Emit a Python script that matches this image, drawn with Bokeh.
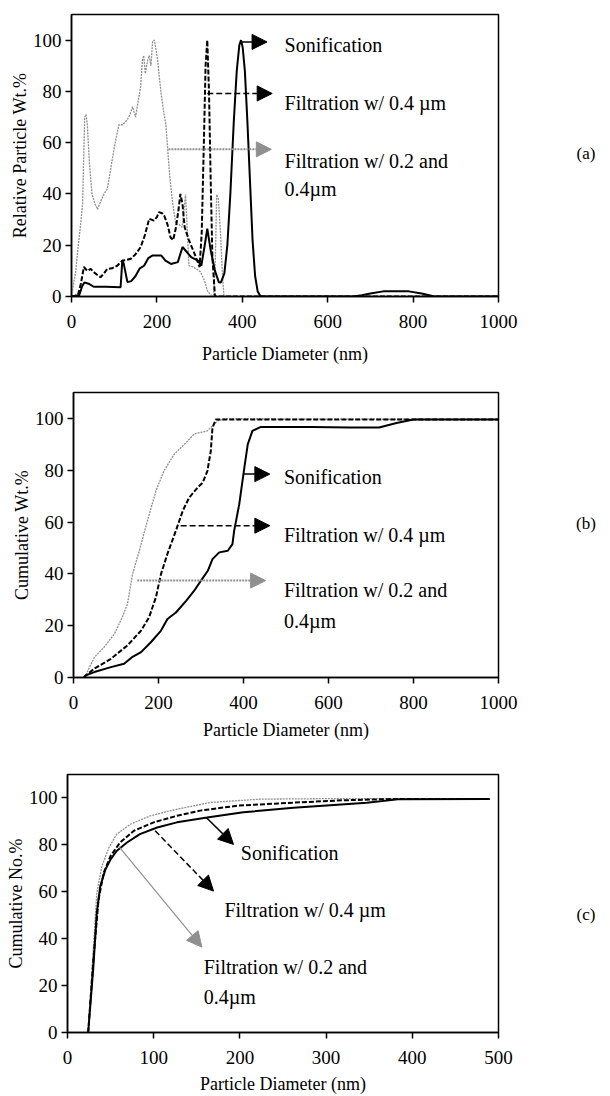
from bokeh.plotting import figure
from bokeh.layouts import column, row
from bokeh.models import Range1d, Label, Arrow, NormalHead
from bokeh.embed import file_html
from bokeh.resources import INLINE

# ---------------- data ----------------
# Panel (a): relative particle wt.%
son_a_x = [0, 18, 25, 30, 40, 52, 80, 115, 119, 122, 131, 140, 150, 160, 170, 180, 190, 210, 220, 233, 249, 260, 280, 296, 304, 312, 318, 326, 336, 345, 350, 358, 365, 372, 380, 387, 393, 397, 401, 406, 412, 418, 424, 430, 436, 443, 500, 660, 680, 700, 730, 760, 790, 820, 850, 1000]
son_a_y = [0, 0.5, 4, 5.5, 5, 3.8, 3.8, 3.6, 14, 13, 5.6, 6, 8, 11, 12, 15, 16, 16, 14, 12.7, 13.4, 19.3, 15.4, 14, 12, 20, 26.5, 18, 10, 5.6, 5.5, 9, 20, 40, 68, 88, 98, 100, 97, 88, 68, 45, 22, 8, 2, 0, 0, 0, 0.5, 1.2, 2, 2, 2, 1.2, 0, 0]

dash_a_x = [0, 15, 22, 29, 37, 45, 52, 60, 68, 76, 84, 95, 107, 119, 128, 139, 150, 162, 172, 182, 193, 200, 205, 212, 217, 225, 232, 238, 244, 250, 255, 260, 265, 275, 288, 300, 305, 310, 314, 318, 322, 326, 330, 336, 1000]
dash_a_y = [0, 0.5, 5, 11.5, 10, 10.8, 9.5, 8.5, 7.5, 9, 10.8, 11, 12, 14, 14.2, 14.7, 16.5, 19.3, 24, 30.3, 29.6, 31, 32.9, 32.5, 31.6, 28, 23, 22, 26.4, 33, 40, 36, 27, 22, 16.7, 11.5, 25, 60, 90, 100, 80, 45, 15, 0, 0]

gray_a_x = [0, 10, 14, 20, 26, 29, 31, 34, 37, 42, 48, 55, 61, 68, 76, 84, 92, 100, 106, 111, 120, 131, 137, 143, 150, 156, 162, 166, 169, 173, 178, 182, 186, 190, 194, 198, 202, 206, 210, 216, 221, 225, 230, 236, 244, 252, 259, 263, 267, 270, 275, 286, 302, 312, 318, 326, 333, 337, 340, 344, 349, 353, 357, 1000]
gray_a_y = [0, 10, 17, 26, 36, 57, 70, 71, 67, 52, 40, 36, 34, 37, 40, 42, 50, 58, 63, 67, 67, 69, 71, 74, 70, 76, 82, 92, 94, 87, 92, 94, 90, 99.5, 100, 96, 92, 85, 79, 72, 67, 58, 47, 37.6, 28.5, 28, 27, 33, 39.8, 30, 12, 11.5, 9.6, 6, 2.4, 0.5, 0.5, 15, 39.8, 38, 24.6, 10, 0, 0]

# Panel (b): cumulative wt.%
son_b_x = [25, 29, 49, 88, 119, 139, 159, 182, 206, 221, 241, 265, 284, 300, 316, 327, 343, 363, 374, 378, 390, 402, 410, 421, 441, 560, 650, 719, 760, 800, 1000]
son_b_y = [0, 0.8, 2.1, 4, 5.3, 8, 9.8, 13.6, 18.1, 22.6, 25.1, 29.6, 33.5, 37.4, 41.2, 45.7, 48.3, 48.9, 51.5, 56.6, 66.9, 81, 90, 95.2, 96.7, 96.7, 96.5, 96.5, 98.2, 99.6, 99.6]

dash_b_x = [25, 29, 49, 88, 127, 159, 178, 194, 206, 221, 241, 257, 272, 292, 304, 315, 323, 327, 335, 1000]
dash_b_y = [0, 0.8, 3.4, 7.2, 12.4, 18.1, 23.3, 31, 40, 47.7, 56.7, 64.3, 69.4, 73.3, 75.2, 79.7, 87.4, 96.4, 99.6, 99.6]

gray_b_x = [25, 29, 49, 72, 96, 115, 127, 139, 155, 174, 194, 213, 237, 261, 284, 315, 339, 354, 1000]
gray_b_y = [0, 1, 7.8, 11.7, 16.8, 23.3, 28.4, 40, 49, 60.5, 72, 79.8, 86.2, 90, 94, 95.2, 99, 99.8, 99.6]

# Panel (c): cumulative number %
son_c_x = [24, 30, 34, 38, 44, 50, 57, 69, 84, 104, 127, 162, 204, 262, 309, 347, 386, 490]
son_c_y = [0, 28, 51, 62.4, 69.5, 73.8, 77.4, 81, 84.6, 87.4, 89.6, 91.7, 93.9, 95.8, 97, 98, 99.5, 99.6]

dash_c_x = [24, 30, 36, 42, 50, 61, 77, 100, 127, 154, 197, 262, 320, 380, 490]
dash_c_y = [0, 31, 56.7, 68.1, 75.3, 81, 86, 89.6, 92.4, 94.6, 96.7, 98, 99, 99.6, 99.6]

gray_c_x = [24, 29, 34, 40, 48, 57, 73, 96, 127, 166, 224, 300, 490]
gray_c_y = [0, 30, 59.5, 71, 78.8, 84.5, 88.8, 92.4, 95.2, 98.1, 99.5, 99.7, 99.7]

series_names = ["Sonification", "Filtration w/ 0.4 \u00b5m", "Filtration w/ 0.2 and", "0.4\u00b5m"]
panel_tags = ["(a)", "(b)", "(c)"]

y_ticks = [0, 20, 40, 60, 80, 100]
x_ticks_ab = [0, 200, 400, 600, 800, 1000]
x_ticks_c = [0, 100, 200, 300, 400, 500]

FONT = "Liberation Serif"
GRAY = "#8f8f8f"
PANEL_W = 518
TAG_W = 90


def make_panel(height, top, bottom, left, xmax, xticks, ylabel, series, texts, arrows,
               gray_arrow_dash, s1, s2):
    p = figure(width=PANEL_W, height=height, output_backend="svg", toolbar_location=None,
               x_range=Range1d(0, xmax), y_range=Range1d(0, 110),
               min_border_top=top, min_border_bottom=bottom, min_border_left=left,
               min_border_right=20)
    p.grid.visible = False
    p.outline_line_color = "black"
    p.outline_line_width = 1.5
    p.background_fill_color = "white"
    p.border_fill_color = "white"
    p.xaxis.ticker = xticks
    p.yaxis.ticker = y_ticks
    for ax in (p.xaxis[0], p.yaxis[0]):
        ax.major_tick_out = 6
        ax.major_tick_in = 0
        ax.minor_tick_out = 0
        ax.minor_tick_in = 0
        ax.axis_line_width = 1.5
        ax.major_tick_line_width = 1.5
        ax.major_label_text_font = FONT
        ax.major_label_text_font_size = "19px"
        ax.major_label_text_color = "black"
        ax.axis_label_text_font = FONT
        ax.axis_label_text_font_size = "18px"
        ax.axis_label_text_font_style = "normal"
        ax.axis_label_text_color = "black"
    p.xaxis.major_label_standoff = s1
    p.xaxis.axis_label_standoff = s2
    p.yaxis.major_label_standoff = 4
    p.yaxis.axis_label_standoff = 0
    p.xaxis.axis_label = "Particle Diameter (nm)"
    p.yaxis.axis_label = ylabel

    (sx, sy), (dx, dy), (gx, gy) = series
    p.line(gx, gy, line_color=GRAY, line_width=1.3, line_dash="2 1")
    p.line(dx, dy, line_color="black", line_width=2, line_dash="5 2")
    p.line(sx, sy, line_color="black", line_width=2)

    for (tx, ty), t in zip(texts, series_names):
        p.add_layout(Label(x=tx, y=ty, text=t, text_font=FONT, text_font_size="20px",
                           text_baseline="middle", text_color="black"))

    styles = [("black", None, 1.5), ("black", "6 3", 1.5),
              (GRAY, gray_arrow_dash, 2 if gray_arrow_dash else 1.2)]
    for (x0, y0, x1, y1), (c, dash, w) in zip(arrows, styles):
        kw = dict(line_color=c, line_width=w)
        if dash:
            kw["line_dash"] = dash
        p.add_layout(Arrow(end=NormalHead(size=15, fill_color=c, line_color=c, line_width=1),
                           x_start=x0, y_start=y0, x_end=x1, y_end=y1, **kw))
    return p


def make_tag(height, tag, yfrac):
    t = figure(width=TAG_W, height=height, output_backend="svg", toolbar_location=None,
               x_range=Range1d(0, 1), y_range=Range1d(0, 1),
               x_axis_type=None, y_axis_type=None,
               min_border=0, min_border_left=0, min_border_right=0,
               min_border_top=0, min_border_bottom=0)
    t.grid.visible = False
    t.outline_line_color = None
    t.background_fill_color = "white"
    t.border_fill_color = "white"
    t.add_layout(Label(x=0.75, y=yfrac, text=tag, text_font=FONT, text_font_size="17px",
                       text_align="center", text_baseline="middle", text_color="black"))
    return t


pa = make_panel(372, 14, 76, 71, 1000, x_ticks_ab, "Relative Particle Wt.%",
                [(son_a_x, son_a_y), (dash_a_x, dash_a_y), (gray_a_x, gray_a_y)],
                [(499, 98), (499, 75.4), (499, 53), (499, 41.8)],
                [(396, 99.3, 458, 99.3), (318, 79.2, 470, 79.2), (227, 57.4, 468, 57.4)],
                "2 1", 12, 13)

pb = make_panel(370, 20, 65, 73, 1000, x_ticks_ab, "Cumulative Wt.%",
                [(son_b_x, son_b_y), (dash_b_x, dash_b_y), (gray_b_x, gray_b_y)],
                [(495, 77.2), (495, 55.1), (495, 33.6), (495, 22)],
                [(401, 78.5, 462, 78.5), (252, 58.6, 462, 58.6), (150, 37.4, 452, 37.4)],
                "2 1", 12, 8)

pc = make_panel(354, 32, 64, 67, 500, x_ticks_c, "Cumulative No.%",
                [(son_c_x, son_c_y), (dash_c_x, dash_c_y), (gray_c_x, gray_c_y)],
                [(201, 76.7), (182, 52.1), (158, 27.9), (158, 15)],
                [(161, 91.7, 192.6, 80.2), (101.7, 86, 169.4, 60.3), (59.2, 79.5, 155.9, 36.4)],
                None, 12, 7)

ta = make_tag(372, panel_tags[0], 0.508)
tb = make_tag(370, panel_tags[1], 0.54)
tc = make_tag(354, panel_tags[2], 0.458)

layout = column(row(pa, ta, spacing=0), row(pb, tb, spacing=0), row(pc, tc, spacing=0), spacing=0)
open("out.html", "w").write(file_html(layout, INLINE))
